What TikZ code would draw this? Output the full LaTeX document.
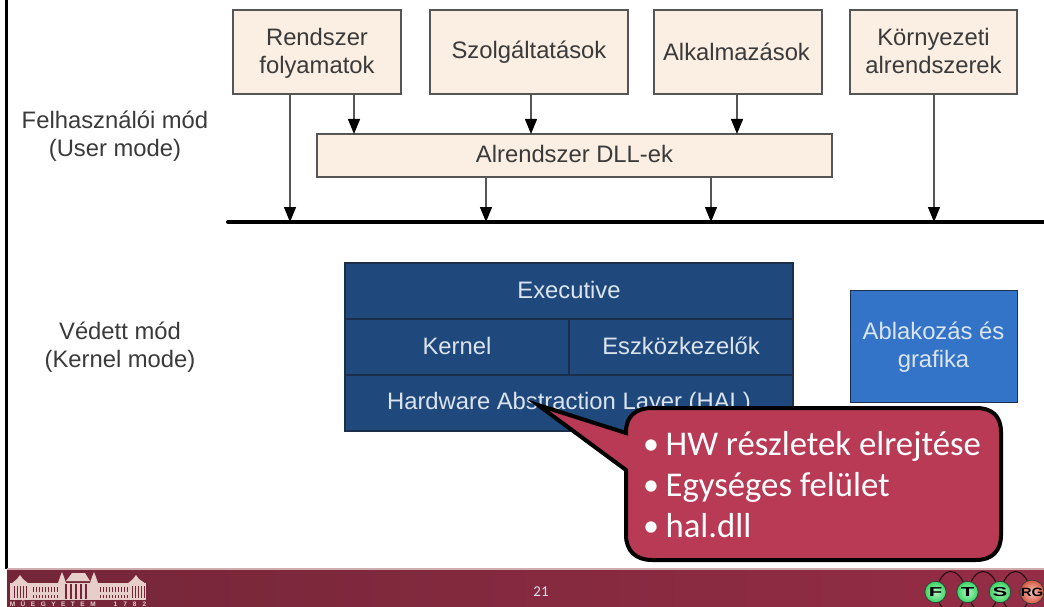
\documentclass[tikz,border=0pt]{standalone}
\usepackage{fontspec}
\setmainfont{Liberation Sans}
\newfontfamily\calloutfont{Carlito}
\usetikzlibrary{arrows.meta}
\definecolor{boxfill}{HTML}{FBEEE2}
\definecolor{boxline}{HTML}{555555}
\definecolor{boxtext}{HTML}{3A3A3A}
\definecolor{navy}{HTML}{1F497D}
\definecolor{navyline}{HTML}{1B2F4A}
\definecolor{midblue}{HTML}{3374C8}
\definecolor{lighttext}{HTML}{DCE4EE}
\definecolor{calloutred}{HTML}{B83A55}
\definecolor{footL}{HTML}{742638}
\definecolor{footR}{HTML}{952D46}
\definecolor{bld}{HTML}{E6CFCB}
\definecolor{ballgreen}{HTML}{35D65F}
\definecolor{ballred}{HTML}{D9583F}
\newcommand{\mainsize}{\fontsize{23.8}{28}\selectfont}
\newcommand{\bul}{{\fontsize{32}{10}\selectfont\raisebox{1.2pt}{•}}\hspace{6.5pt}}
\newcommand{\twolines}[3]{\raisebox{#1}[30pt][30pt]{\begin{tabular}{@{}c@{}}#2\\#3\end{tabular}}}
\tikzset{
  x=1pt,y=-1pt,
  lbl/.style={font=\mainsize,text=boxtext,align=center,inner sep=0pt},
  pbox/.style={draw=boxline,line width=1.4pt,fill=boxfill,inner sep=0pt,text=boxtext,align=center,font=\mainsize},
  kbox/.style={draw=navyline,line width=1.2pt,fill=navy,inner sep=0pt,text=lighttext,align=center,font=\mainsize},
  conn/.style={draw=boxline,line width=1.3pt,-{Triangle[length=15pt,width=12pt,color=black]}},
  arcl/.style={draw=black!65!footL,line width=1.1pt,-{Stealth[length=4pt,width=3.5pt]}},
  ftsball/.style={circle,minimum size=21.5pt,inner sep=0pt,draw=black!75,line width=0.9pt,inner color=#1!35!white,outer color=#1,font=\fontsize{13}{13}\selectfont\bfseries,text=black},
  bpart/.style={fill=bld,draw=none},
  wnd/.style={draw=footL,line width=0.7pt}
}
\begin{document}
\begin{tikzpicture}
\useasboundingbox (0,0) rectangle (1044,607);
\fill[white] (0,0) rectangle (1044,607);
% frame and footer
\fill[black] (5,0) rectangle (7.5,569);
\shade[left color=footL,right color=footR,draw=none] (7,569) rectangle (1044,607);
\fill[bld!80!footL] (7,568) rectangle (1044,569.5);
% labels
\node[lbl] (um) at (115,136.5) {Felhasználói mód\\(User mode)};
\node[lbl] (km) at (120,347.5) {Védett mód\\(Kernel mode)};
% top boxes
\node[pbox,minimum width=168pt,minimum height=84pt] (r1) at (317,52) {\twolines{-8pt}{Rendszer}{folyamatok}};
\node[pbox,minimum width=198pt,minimum height=84pt] (r2) at (529,52) {Szolgáltatások};
\node[pbox,minimum width=168pt,minimum height=84pt] (r3) at (738,52) {\hspace{-3pt}\raisebox{1.5pt}{Alkalmazások}};
\node[pbox,minimum width=167pt,minimum height=84pt] (r4) at (933.5,52) {\twolines{-8pt}{Környezeti}{alrendszerek}};
\node[pbox,minimum width=515pt,minimum height=43pt] (dll) at (574.5,155.5) {\raisebox{3pt}{Alrendszer DLL-ek}};
% bus
\coordinate (busL) at (228,222);
\coordinate (busR) at (1044,222);
\draw[line width=4pt,black,line cap=round] (busL) -- (busR);
\coordinate (b1) at (290,222);
\coordinate (b2) at (486,222);
\coordinate (b3) at (711,222);
\coordinate (b4) at (934,222);
\coordinate (d1) at (354,134);
\coordinate (d2) at (531,134);
\coordinate (d3) at (737,134);
\draw[conn] (r1.south -| b1) -- (b1);
\draw[conn] (r1.south -| d1) -- (d1);
\draw[conn] (r2.south -| d2) -- (d2);
\draw[conn] (r3.south -| d3) -- (d3);
\draw[conn] (r4.south -| b4) -- (b4);
\draw[conn] (dll.south -| b2) -- (b2);
\draw[conn] (dll.south -| b3) -- (b3);
% kernel blocks
\node[kbox,minimum width=448pt,minimum height=56pt] (ex) at (569,291) {\raisebox{3pt}{Executive}};
\node[kbox,minimum width=224pt,minimum height=56pt] (ke) at (457,347) {\raisebox{3pt}{Kernel}};
\node[kbox,minimum width=224pt,minimum height=56pt] (es) at (681,347) {\raisebox{3pt}{Eszközkezelők}};
\node[kbox,minimum width=448pt,minimum height=56pt] (hal) at (569,403) {Hardware Abstraction Layer (HAL)};
\node[draw=navyline,line width=1pt,fill=midblue,inner sep=0pt,minimum width=167pt,minimum height=112pt,text=lighttext,align=center,font=\mainsize] (ab) at (933.5,346) {\twolines{-8pt}{Ablakozás és}{grafika}};
% callout
\draw[fill=calloutred,draw=black,line width=4pt,line join=miter,miter limit=10]
  (538,405) -- (626,433) -- (626,432)
  .. controls (626,416) and (636,408) .. (652,408)
  -- (976,408) .. controls (992,408) and (1001,416) .. (1001,432)
  -- (1001,535) .. controls (1001,551) and (992,560) .. (976,560)
  -- (652,560) .. controls (636,560) and (626,551) .. (626,535)
  -- (626,470) -- cycle;
\node[anchor=north west,inner sep=0pt,text=white,align=left,font=\calloutfont\fontsize{34.7}{41.3}\selectfont] (ct) at (643,431)
  {\bul HW részletek elrejtése\\\bul Egységes felület\\\bul hal.dll};
% page number
\node[text=lighttext,inner sep=0pt,font=\calloutfont\fontsize{15}{15}\selectfont] (pn) at (541,592) {21};
% building
\begin{scope}
\clip (8,570) rectangle (150,607);
\fill[bpart] (10,583) rectangle (146,600);
\fill[bpart] (11,584) -- (17,579) -- (20,575) -- (23,579) -- (29,584) -- cycle;
\fill[bpart] (127,584) -- (133,579) -- (136,575) -- (139,579) -- (146,584) -- cycle;
\fill[bpart] (58,583) -- (60,577) -- (62,572) -- (64,577) -- (66,583) -- cycle;
\fill[bpart] (90,583) -- (92,577) -- (94,572) -- (96,577) -- (98,583) -- cycle;
\fill[bpart] (66,581) -- (72,573) -- (85,573) -- (90,581) -- cycle;
\foreach \wx in {14,17,...,26} {\draw[wnd,line width=0.5pt] (\wx,586) -- (\wx,598);}
\foreach \wx in {132,135,...,144} {\draw[wnd,line width=0.5pt] (\wx,586) -- (\wx,598);}
\foreach \wx in {33,36,...,57} {\draw[wnd] (\wx,587) -- (\wx,592);\draw[wnd] (\wx,595) -- (\wx,598);}
\foreach \wx in {100,103,...,127} {\draw[wnd] (\wx,587) -- (\wx,592);\draw[wnd] (\wx,595) -- (\wx,598);}
\foreach \wx in {66,71,...,90} {\draw[wnd,line width=1.1pt] (\wx,584) -- (\wx,599);}
\end{scope}
\node[text=bld,inner sep=0pt,anchor=center,font=\fontsize{6.5}{7}\selectfont\bfseries] (mu) at (78,604)
  {M\hspace{5.5pt}Ű\hspace{5.5pt}E\hspace{5.5pt}G\hspace{5.5pt}Y\hspace{5.5pt}E\hspace{5.5pt}T\hspace{5.5pt}E\hspace{5.5pt}M\hspace{18pt}1\hspace{6pt}7\hspace{6pt}8\hspace{6pt}2};
% logos
\coordinate (fc) at (935.5,592);
\coordinate (tc) at (967.5,592);
\coordinate (sc) at (1000,592);
\coordinate (rc) at (1032,592);
\draw[arcl] (fc) .. controls (942,565) and (958,565) .. (tc);
\draw[arcl] (tc) .. controls (974,565) and (991,565) .. (sc);
\draw[arcl] (sc) .. controls (1007,565) and (1023,565) .. (rc);
\draw[arcl] (fc) .. controls (942,619) and (958,619) .. (tc);
\draw[arcl] (tc) .. controls (974,619) and (991,619) .. (sc);
\draw[arcl] (sc) .. controls (1007,619) and (1023,619) .. (rc);
\node[ftsball=ballgreen] (f) at (fc) {\scalebox{1.7}[1]{F}};
\node[ftsball=ballgreen] (t) at (tc) {\scalebox{1.7}[1]{T}};
\node[ftsball=ballgreen] (s) at (sc) {\scalebox{1.7}[1]{S}};
\node[ftsball=ballred,font=\fontsize{12}{12}\selectfont\bfseries] (rg) at (rc) {\scalebox{1.25}[1]{RG}};
\end{tikzpicture}
\end{document}
